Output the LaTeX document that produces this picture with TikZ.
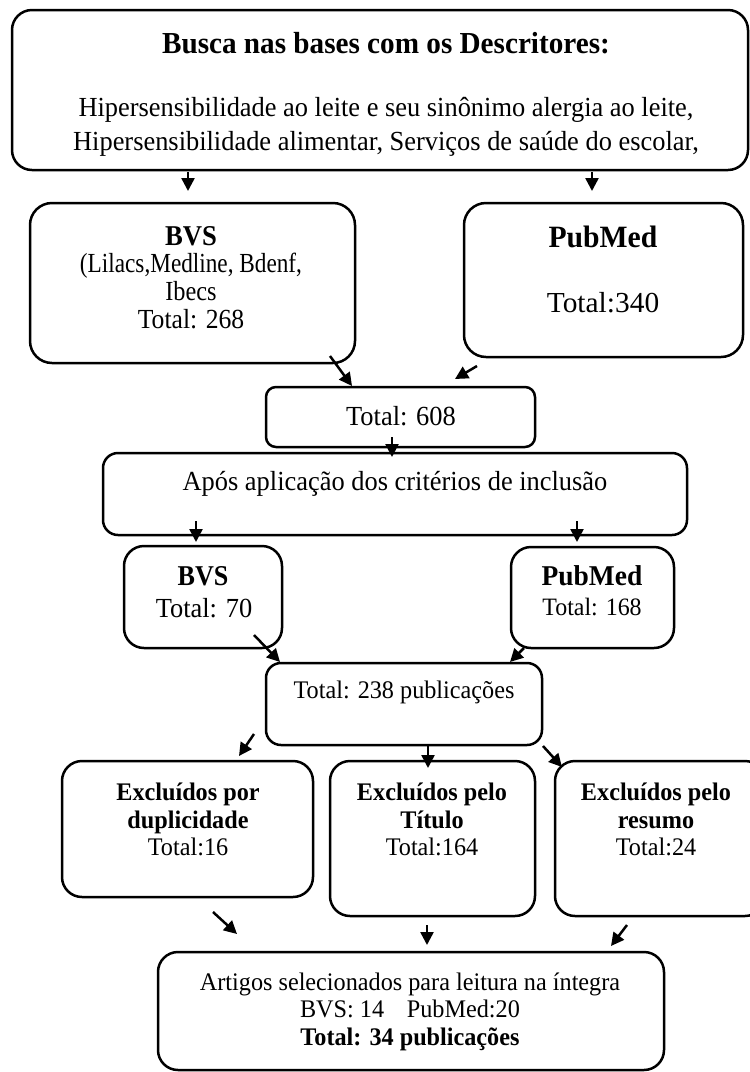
\documentclass[tikz,border=0pt]{standalone}
\usepackage{graphicx}
\usepackage{fontspec}
\setmainfont{Liberation Serif}[FakeStretch=0.957]
\usetikzlibrary{arrows.meta}
\newcommand\myfs[1]{\fontsize{#1}{#1}\selectfont}
\newcommand\sx[2]{\scalebox{#1}[1]{#2}}
\begin{document}
\begin{tikzpicture}[x=1pt,y=-1pt,
  box/.style={draw, line width=2.5pt, inner sep=0pt, rounded corners=#1},
  box/.default=20pt,
  arr/.style={line width=2.5pt, -{Triangle[length=13pt,width=13pt]}},
  tx/.style={inner sep=0pt, anchor=base, font=\myfs{#1}},
  tb/.style={inner sep=0pt, anchor=base, font=\myfs{#1}\bfseries}]
\clip (0,0) rectangle (750,1072);
\fill[white] (0,0) rectangle (750,1072);

% boxes
\node[box=20pt, minimum width=736pt, minimum height=160pt] (top) at (380,90) {};
\node[box=22pt, minimum width=325pt, minimum height=160pt] (bvs1) at (192.5,283) {};
\node[box=22pt, minimum width=279pt, minimum height=154pt] (pub1) at (603.5,280) {};
\node[box=10pt, minimum width=269pt, minimum height=60pt] (t608) at (400.5,417) {};
\node[box=15pt, minimum width=584pt, minimum height=82pt] (apos) at (395,494) {};
\node[box=20pt, minimum width=158pt, minimum height=102pt] (bvs2) at (203,597) {};
\node[box=20pt, minimum width=163pt, minimum height=101pt] (pub2) at (592.5,597.5) {};
\node[box=15pt, minimum width=276pt, minimum height=82pt] (t238) at (404,704) {};
\node[box=20pt, minimum width=251pt, minimum height=136pt] (ex1) at (187.5,829) {};
\node[box=20pt, minimum width=205pt, minimum height=155pt] (ex2) at (432.5,838.5) {};
\node[box=20pt, minimum width=210pt, minimum height=155pt] (ex3) at (660,838.5) {};
\node[box=20pt, minimum width=506pt, minimum height=118pt] (fin) at (411,1011) {};

% texts
\node[tb=30.5] (ttl) at (386,53) {Busca nas bases com os Descritores:};
\node[tx=27.6] (d1) at (386,116) {Hipersensibilidade ao leite e seu sinônimo alergia ao leite,};
\node[tx=27.6] (d2) at (386,150) {Hipersensibilidade alimentar, Serviços de saúde do escolar,};

\node[tb=28.7] (b1a) at (191,245) {\sx{0.97}{BVS}};
\node[tx=27.6] (b1b) at (191,272) {\sx{0.88}{(Lilacs,Medline, Bdenf,}};
\node[tx=27.6] (b1c) at (191,300) {\sx{0.92}{Ibecs}};
\node[tx=27.6] (b1d) at (191,328) {\sx{0.97}{Total: 268}};

\node[tb=31] (p1a) at (603,247) {PubMed};
\node[tx=29] (p1b) at (603,312) {\sx{1.06}{Total:340}};

\node[tx=27.6] (t608t) at (401,425) {Total: 608};
\node[tx=27.6] (apost) at (395,490) {Após aplicação dos critérios de inclusão};

\node[tb=28.7] (b2a) at (203,585) {\sx{0.95}{BVS}};
\node[tx=27.6] (b2b) at (204,617) {Total: 70};
\node[tb=28.7] (p2a) at (592,585) {PubMed};
\node[tx=25] (p2b) at (592,615) {Total: 168};

\node[tx=25.3] (t238t) at (404,698) {Total: 238 publicações};

\node[tb=25.3] (e1a) at (188,800) {Excluídos por};
\node[tb=25.3] (e1b) at (188,828) {duplicidade};
\node[tx=25.3] (e1c) at (188,855) {Total:16};
\node[tb=25.3] (e2a) at (432,800) {Excluídos pelo};
\node[tb=25.3] (e2b) at (432,828) {Título};
\node[tx=25.3] (e2c) at (432,855) {Total:164};
\node[tb=25.3] (e3a) at (656,800) {Excluídos pelo};
\node[tb=25.3] (e3b) at (656,828) {resumo};
\node[tx=25.3] (e3c) at (656,855) {Total:24};

\node[tx=25.3] (f1) at (410,990) {Artigos selecionados para leitura na íntegra};
\node[tx=25.3] (f2) at (410,1017) {BVS: 14\hspace{0.9em}PubMed:20};
\node[tb=25.3] (f3) at (410,1045) {Total: 34 publicações};

% arrow end points
\coordinate (a1s) at (188,172);  \coordinate (a1e) at (188,191);
\coordinate (a2s) at (592,172);  \coordinate (a2e) at (592,191);
\coordinate (a3s) at (330,356);  \coordinate (a3e) at (352,386);
\coordinate (a4s) at (477,366);  \coordinate (a4e) at (455,379);
\coordinate (a5s) at (392,437);  \coordinate (a5e) at (392,457);
\coordinate (a6s) at (196,521);  \coordinate (a6e) at (196,542);
\coordinate (a7s) at (577,521);  \coordinate (a7e) at (577,542);
\coordinate (a8s) at (254,635);  \coordinate (a8e) at (280,662);
\coordinate (a9s) at (524,648);  \coordinate (a9e) at (510,662);
\coordinate (a10s) at (254,734); \coordinate (a10e) at (239,756);
\coordinate (a11s) at (428,745); \coordinate (a11e) at (428,768);
\coordinate (a12s) at (543,746); \coordinate (a12e) at (562,767);
\coordinate (a13s) at (213,912); \coordinate (a13e) at (237,934);
\coordinate (a14s) at (427,925); \coordinate (a14e) at (427,945);
\coordinate (a15s) at (627,925); \coordinate (a15e) at (611,946);

\foreach \i in {1,...,15} \draw[arr] (a\i s) -- (a\i e);
\end{tikzpicture}
\end{document}
